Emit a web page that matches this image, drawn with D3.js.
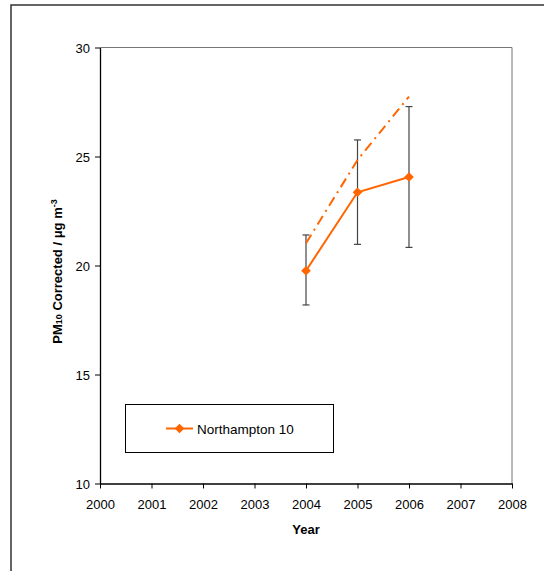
<!DOCTYPE html>
<html>
<head>
<meta charset="utf-8">
<script src="https://cdn.jsdelivr.net/npm/d3@7"></script>
<style>
  html, body { margin: 0; padding: 0; background: #fff; }
  svg { display: block; font-family: "Liberation Sans", Arial, sans-serif; }
</style>
</head>
<body>
<svg id="chart" width="544" height="571"></svg>
<script>
// Annual mean PM10 (corrected) at Northampton 10
const years = [2004, 2005, 2006];
const meanValues = [19.76, 23.36, 24.06];
const errLow = [18.19, 20.97, 20.83];
const errHigh = [21.4, 25.76, 27.29];
const upperValues = [21.02, 24.84, 27.75];
const seriesName = "Northampton 10";
const xTicks = [2000, 2001, 2002, 2003, 2004, 2005, 2006, 2007, 2008];
const yTicks = [10, 15, 20, 25, 30];

const orange = "#FF6600";
const svg = d3.select("#chart");

// outer chart frame
svg.append("rect")
  .attr("x", 11).attr("y", 5)
  .attr("width", 560).attr("height", 600)
  .attr("fill", "none").attr("stroke", "#333").attr("stroke-width", 1.5);

const plot = { left: 100, top: 47.5, right: 512, bottom: 483.5 };

const x = d3.scaleLinear().domain([2000, 2008]).range([plot.left, plot.right]);
const y = d3.scaleLinear().domain([10, 30]).range([plot.bottom, plot.top]);

// plot area border (top and right)
svg.append("path")
  .attr("d", `M${plot.left},${plot.top}H${plot.right}V${plot.bottom}`)
  .attr("fill", "none").attr("stroke", "#777").attr("stroke-width", 1);

// axes
const xAxis = svg.append("g")
  .attr("transform", `translate(0,${plot.bottom})`)
  .call(d3.axisBottom(x).tickValues(xTicks).tickFormat(d3.format("d")).tickSize(5).tickSizeOuter(0));
const yAxis = svg.append("g")
  .attr("transform", `translate(${plot.left},0)`)
  .call(d3.axisLeft(y).tickValues(yTicks).tickSize(5).tickSizeOuter(0));

[xAxis, yAxis].forEach(g => {
  g.select(".domain").attr("stroke", "#000").attr("stroke-width", 1.3);
  g.selectAll(".tick line").attr("stroke", "#000");
  g.selectAll(".tick text")
    .attr("fill", "#000")
    .style("font-family", '"Liberation Sans", Arial, sans-serif')
    .style("font-size", "13px");
});
xAxis.selectAll(".tick text").attr("dy", 0).attr("y", 25.5);
yAxis.selectAll(".tick text").attr("x", -10).attr("dy", "0.36em");

// axis titles
svg.append("text")
  .attr("x", (plot.left + plot.right) / 2).attr("y", 533.5)
  .attr("text-anchor", "middle")
  .style("font-size", "13px").style("font-weight", "bold")
  .text("Year");

const yTitle = svg.append("text")
  .attr("transform", `translate(62,${(plot.top + plot.bottom) / 2 + 6}) rotate(-90)`)
  .attr("text-anchor", "middle")
  .style("font-size", "13px").style("font-weight", "bold");
yTitle.append("tspan").text("PM");
yTitle.append("tspan").attr("font-size", "9px").text("10");
yTitle.append("tspan").text(" Corrected / μg m");
yTitle.append("tspan").attr("font-size", "9px").attr("dy", "-5").text("-3");

const pts = years.map((yr, i) => ({ yr, v: meanValues[i], lo: errLow[i], hi: errHigh[i], up: upperValues[i] }));

// error bars
const eb = svg.append("g").attr("stroke", "#444").attr("stroke-width", 1.2);
pts.forEach(d => {
  eb.append("line").attr("x1", x(d.yr)).attr("x2", x(d.yr)).attr("y1", y(d.lo)).attr("y2", y(d.hi));
  eb.append("line").attr("x1", x(d.yr) - 3.5).attr("x2", x(d.yr) + 3.5).attr("y1", y(d.lo)).attr("y2", y(d.lo));
  eb.append("line").attr("x1", x(d.yr) - 3.5).attr("x2", x(d.yr) + 3.5).attr("y1", y(d.hi)).attr("y2", y(d.hi));
});

// upper estimate, dash-dot
svg.append("path")
  .datum(pts)
  .attr("d", d3.line().x(d => x(d.yr)).y(d => y(d.up)))
  .attr("fill", "none").attr("stroke", orange).attr("stroke-width", 2)
  .attr("stroke-dasharray", "10,5,2,5");

// mean line with diamond markers
svg.append("path")
  .datum(pts)
  .attr("d", d3.line().x(d => x(d.yr)).y(d => y(d.v)))
  .attr("fill", "none").attr("stroke", orange).attr("stroke-width", 2);

const diamond = d3.symbol().type(d3.symbolDiamond2).size(60);
svg.selectAll(".marker").data(pts).join("path")
  .attr("class", "marker")
  .attr("transform", d => `translate(${x(d.yr)},${y(d.v)})`)
  .attr("d", diamond)
  .attr("fill", orange);

// legend
const lg = svg.append("g");
lg.append("rect")
  .attr("x", 125.5).attr("y", 404.5).attr("width", 208).attr("height", 48)
  .attr("fill", "#fff").attr("stroke", "#000").attr("stroke-width", 1);
lg.append("line")
  .attr("x1", 166).attr("x2", 193).attr("y1", 428.5).attr("y2", 428.5)
  .attr("stroke", orange).attr("stroke-width", 2);
lg.append("path")
  .attr("transform", "translate(179.5,428.5)")
  .attr("d", diamond).attr("fill", orange);
lg.append("text")
  .attr("x", 197).attr("y", 433.5)
  .style("font-size", "13.5px")
  .text(seriesName);
</script>
</body>
</html>
